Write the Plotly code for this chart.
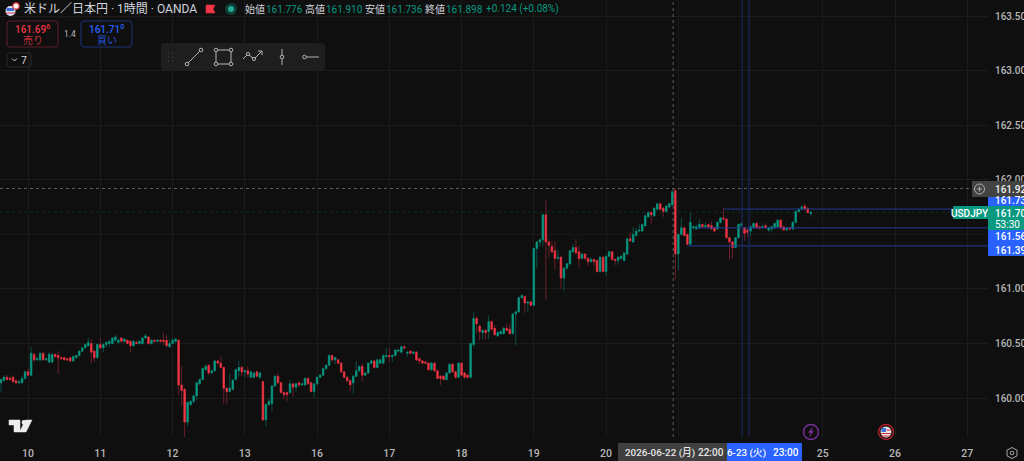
import plotly.graph_objects as go

opens = [160.14,160.16,160.19,160.18,160.19,160.16,160.14,160.14,160.18,160.24,160.21,160.40,160.35,160.35,160.41,160.35,160.33,160.33,160.40,160.39,
160.37,160.37,160.36,160.37,160.34,160.37,160.39,160.43,160.46,160.48,160.50,160.43,160.37,160.49,160.46,160.49,160.50,160.50,160.53,160.51,
160.55,160.52,160.53,160.52,160.48,160.51,160.50,160.50,160.55,160.56,160.50,160.53,160.52,160.53,160.53,160.53,160.47,160.50,160.52,160.53,
160.12,160.08,159.78,159.94,159.97,160.02,160.13,160.17,160.26,160.30,160.23,160.25,160.34,160.32,160.28,160.09,160.06,160.08,160.17,160.25,
160.28,160.24,160.25,160.19,160.19,160.24,160.19,160.15,159.80,159.94,159.95,160.11,160.20,160.14,160.05,160.05,160.05,160.13,160.10,160.14,
160.12,160.12,160.18,160.14,160.06,160.13,160.19,160.21,160.27,160.30,160.39,160.35,160.35,160.32,160.24,160.19,160.16,160.14,160.20,160.25,
160.29,160.21,160.23,160.32,160.34,160.28,160.32,160.32,160.38,160.39,160.38,160.39,160.43,160.42,160.47,160.41,160.43,160.41,160.42,160.36,
160.34,160.33,160.32,160.26,160.32,160.25,160.20,160.20,160.17,160.23,160.31,160.24,160.19,160.32,160.23,160.21,160.19,160.49,160.73,160.66,
160.60,160.62,160.61,160.70,160.64,160.57,160.59,160.59,160.64,160.63,160.59,160.77,160.79,160.92,160.93,160.87,160.88,160.85,161.37,161.43,
161.45,161.68,161.43,161.39,161.35,161.28,161.29,161.10,161.19,161.23,161.34,161.38,161.34,161.28,161.32,161.28,161.25,161.27,161.26,161.16,
161.29,161.16,161.30,161.34,161.27,161.26,161.28,161.26,161.32,161.46,161.43,161.49,161.53,161.53,161.58,161.66,161.70,161.67,161.73,161.78,
161.74,161.71,161.75,161.77,161.90,161.32,161.50,161.56,161.50,161.41,161.56,161.55,161.56,161.59,161.57,161.59,161.58,161.56,161.55,161.61,
161.65,161.64,161.47,161.43,161.38,161.47,161.58,161.56,161.54,161.53,161.56,161.60,161.57,161.56,161.58,161.54,161.55,161.56,161.57,161.63,
161.57,161.54,161.56,161.55,161.61,161.71,161.73,161.76,161.74,161.69]
highs = [160.18,160.21,160.21,160.20,160.21,160.17,160.17,160.20,160.25,160.27,160.47,160.41,160.38,160.42,160.42,160.37,160.42,160.41,160.41,160.43,
160.38,160.38,160.37,160.38,160.39,160.40,160.44,160.47,160.50,160.55,160.54,160.44,160.50,160.55,160.51,160.52,160.53,160.56,160.58,160.55,
160.56,160.55,160.54,160.53,160.53,160.53,160.53,160.56,160.59,160.57,160.54,160.54,160.54,160.54,160.60,160.58,160.54,160.55,160.55,160.54,
160.29,160.09,159.97,159.98,160.03,160.15,160.18,160.28,160.31,160.31,160.26,160.35,160.35,160.38,160.29,160.10,160.22,160.17,160.27,160.34,
160.30,160.26,160.29,160.25,160.24,160.25,160.24,160.16,159.95,160.00,160.12,160.21,160.23,160.15,160.06,160.06,160.17,160.14,160.14,160.15,
160.14,160.19,160.19,160.15,160.14,160.20,160.22,160.28,160.31,160.40,160.40,160.38,160.36,160.33,160.25,160.20,160.17,160.21,160.34,160.30,
160.32,160.24,160.33,160.35,160.35,160.36,160.36,160.40,160.46,160.46,160.40,160.45,160.45,160.48,160.48,160.43,160.44,160.43,160.43,160.37,
160.35,160.34,160.33,160.33,160.33,160.26,160.21,160.21,160.24,160.32,160.32,160.25,160.33,160.33,160.24,160.22,160.51,160.79,160.75,160.67,
160.63,160.63,160.76,160.71,160.67,160.61,160.62,160.65,160.68,160.68,160.78,160.80,160.93,160.95,160.94,160.89,160.89,161.38,161.44,161.46,
161.69,161.81,161.46,161.44,161.44,161.36,161.30,161.20,161.24,161.36,161.41,161.46,161.40,161.33,161.33,161.29,161.29,161.28,161.27,161.30,
161.30,161.31,161.35,161.35,161.28,161.30,161.31,161.34,161.47,161.52,161.57,161.56,161.60,161.60,161.68,161.71,161.71,161.75,161.79,161.79,
161.75,161.77,161.79,161.90,161.92,161.51,161.65,161.57,161.51,161.70,161.58,161.59,161.64,161.60,161.61,161.60,161.62,161.57,161.62,161.66,
161.74,161.65,161.48,161.44,161.48,161.60,161.61,161.57,161.55,161.58,161.61,161.61,161.58,161.60,161.60,161.57,161.58,161.61,161.64,161.64,
161.58,161.57,161.57,161.62,161.72,161.74,161.77,161.78,161.75,161.71]
lows = [160.05,160.15,160.16,160.16,160.14,160.13,160.13,160.13,160.17,160.20,160.20,160.33,160.34,160.33,160.34,160.34,160.32,160.32,160.37,160.22,
160.35,160.35,160.34,160.33,160.33,160.36,160.38,160.42,160.45,160.47,160.32,160.33,160.36,160.44,160.42,160.46,160.47,160.49,160.52,160.50,
160.51,160.51,160.49,160.42,160.47,160.49,160.49,160.49,160.54,160.49,160.49,160.51,160.51,160.51,160.49,160.47,160.46,160.49,160.50,160.03,
159.93,159.59,159.74,159.93,159.95,159.98,160.12,160.16,160.25,160.21,160.22,160.24,160.31,160.27,159.95,159.94,160.05,160.07,160.16,160.20,
160.20,160.19,160.19,160.18,160.18,160.19,160.18,159.79,159.74,159.93,159.88,160.10,160.13,160.04,159.99,159.97,160.04,160.01,160.06,160.10,
160.11,160.11,160.12,160.05,160.00,160.12,160.18,160.20,160.26,160.29,160.33,160.31,160.31,160.23,160.18,160.14,160.06,160.04,160.19,160.24,
160.15,160.20,160.22,160.31,160.27,160.27,160.31,160.31,160.37,160.33,160.33,160.38,160.42,160.41,160.45,160.38,160.40,160.40,160.34,160.31,
160.31,160.31,160.25,160.25,160.24,160.17,160.12,160.16,160.16,160.22,160.23,160.18,160.18,160.20,160.18,160.18,160.18,160.47,160.59,160.53,
160.54,160.53,160.54,160.62,160.57,160.56,160.58,160.58,160.61,160.58,160.58,160.48,160.78,160.91,160.78,160.79,160.84,160.84,161.19,161.39,
161.39,160.90,161.29,161.33,161.17,161.27,161.00,160.98,161.18,161.22,161.33,161.32,161.20,161.27,161.27,161.21,161.24,161.21,161.15,161.15,
161.15,161.12,161.29,161.26,161.22,161.22,161.27,161.25,161.31,161.43,161.42,161.48,161.52,161.52,161.57,161.65,161.60,161.66,161.72,161.72,
161.66,161.70,161.74,161.76,161.08,161.17,161.49,161.48,161.40,161.40,161.54,161.54,161.55,161.56,161.56,161.55,161.54,161.52,161.54,161.60,
161.63,161.46,161.27,161.28,161.37,161.46,161.57,161.44,161.48,161.49,161.55,161.55,161.54,161.55,161.55,161.52,161.52,161.55,161.56,161.55,
161.53,161.53,161.53,161.54,161.60,161.70,161.72,161.72,161.69,161.66]
closes = [160.17,160.19,160.17,160.17,160.15,160.14,160.15,160.18,160.24,160.21,160.41,160.35,160.36,160.41,160.35,160.36,160.40,160.40,160.38,160.37,
160.36,160.35,160.35,160.34,160.38,160.39,160.43,160.46,160.49,160.51,160.42,160.37,160.49,160.46,160.49,160.51,160.52,160.55,160.56,160.53,
160.52,160.54,160.50,160.48,160.52,160.50,160.52,160.55,160.57,160.50,160.53,160.52,160.53,160.52,160.52,160.48,160.50,160.53,160.54,160.12,
160.07,159.78,159.96,159.97,160.02,160.14,160.17,160.27,160.29,160.23,160.25,160.34,160.32,160.28,160.09,160.06,160.09,160.165,160.26,160.28,
160.24,160.25,160.22,160.24,160.23,160.20,160.23,159.80,159.94,159.97,160.11,160.20,160.14,160.05,160.03,160.03,160.13,160.10,160.13,160.12,
160.13,160.18,160.13,160.06,160.13,160.19,160.21,160.27,160.30,160.39,160.35,160.37,160.32,160.24,160.19,160.16,160.12,160.20,160.25,160.29,
160.21,160.23,160.32,160.34,160.28,160.35,160.35,160.39,160.39,160.38,160.39,160.44,160.44,160.47,160.46,160.42,160.41,160.42,160.35,160.34,
160.32,160.32,160.26,160.32,160.25,160.18,160.18,160.17,160.23,160.31,160.24,160.19,160.32,160.21,160.19,160.19,160.50,160.73,160.68,160.61,
160.62,160.60,160.70,160.63,160.58,160.60,160.61,160.64,160.62,160.59,160.77,160.79,160.92,160.94,160.87,160.88,160.85,161.37,161.43,161.45,
161.68,161.43,161.40,161.34,161.28,161.29,161.10,161.19,161.23,161.35,161.38,161.33,161.28,161.32,161.28,161.25,161.27,161.25,161.16,161.29,
161.16,161.30,161.34,161.27,161.26,161.29,161.30,161.33,161.46,161.44,161.50,161.53,161.54,161.59,161.67,161.70,161.68,161.74,161.78,161.73,
161.71,161.76,161.78,161.89,161.32,161.50,161.56,161.49,161.41,161.61,161.57,161.57,161.59,161.57,161.58,161.57,161.55,161.53,161.61,161.65,
161.64,161.47,161.43,161.38,161.47,161.59,161.60,161.51,161.52,161.57,161.60,161.56,161.56,161.57,161.56,161.56,161.57,161.60,161.63,161.56,
161.54,161.56,161.55,161.61,161.71,161.73,161.75,161.73,161.70,161.703]

tick_bars = [9, 33, 57, 81, 105, 129, 153, 177, 201, 273, 297, 321]
tick_days = ["10", "11", "12", "13", "16", "17", "18", "19", "20", "25", "26", "27"]
hidden_day_bars = [225, 249]
price_ticks = [160.0, 160.5, 161.0, 162.0, 162.5, 163.0, 163.5]
price_labels = ["160.000", "160.500", "161.000", "162.000", "162.500", "163.000", "163.500"]
hidden_price_tick = 161.5
hline_prices = [161.732, 161.560, 161.395]
hline_starts = [240, 231, 228]
vline_bars = [246.2, 248.4]
crosshair_bar = 223.3
crosshair_price = 161.920
last_price = 161.703

BG = "#0f0f0f"
GRID = "#1b1b1b"
UP, DOWN = "#089981", "#f23645"
UP_DIM, DOWN_DIM = "#0c4f46", "#6b1f29"
BLUE = "#2962ff"
DIMBLUE = "#1a2b66"
FONT = "Roboto, 'Noto Sans CJK JP', sans-serif"
W, H = 989.0, 437.0
bars = list(range(len(opens)))
body_hi = [max(a, b) for a, b in zip(opens, closes)]
body_lo = [min(a, b) for a, b in zip(opens, closes)]

X = lambda p: p / W
Y = lambda p: 1 - p / H
shapes, notes = [], []


def rect(x0, y0, x1, y1, fill="rgba(0,0,0,0)", line=None, lw=1, radius=0):
    if radius:
        r = radius
        d = (f"M{X(x0+r)},{Y(y0)} L{X(x1-r)},{Y(y0)} Q{X(x1)},{Y(y0)} {X(x1)},{Y(y0+r)} "
             f"L{X(x1)},{Y(y1-r)} Q{X(x1)},{Y(y1)} {X(x1-r)},{Y(y1)} L{X(x0+r)},{Y(y1)} "
             f"Q{X(x0)},{Y(y1)} {X(x0)},{Y(y1-r)} L{X(x0)},{Y(y0+r)} Q{X(x0)},{Y(y0)} {X(x0+r)},{Y(y0)} Z")
        shapes.append(dict(type="path", xref="paper", yref="paper", path=d, fillcolor=fill,
                           line=dict(color=line or "rgba(0,0,0,0)", width=lw if line else 0), layer="above"))
    else:
        shapes.append(dict(type="rect", xref="paper", yref="paper", x0=X(x0), x1=X(x1), y0=Y(y0), y1=Y(y1),
                           fillcolor=fill, line=dict(color=line or "rgba(0,0,0,0)", width=lw if line else 0), layer="above"))


def circle(cx, cy, r, fill="rgba(0,0,0,0)", line=None, lw=1):
    shapes.append(dict(type="circle", xref="paper", yref="paper", x0=X(cx-r), x1=X(cx+r), y0=Y(cy-r), y1=Y(cy+r),
                       fillcolor=fill, line=dict(color=line or "rgba(0,0,0,0)", width=lw if line else 0), layer="above"))


def poly(points, color="#c8c8c8", lw=1, fill=None, close=False):
    d = "M" + " L".join(f"{X(a)},{Y(b)}" for a, b in points) + (" Z" if close else "")
    shapes.append(dict(type="path", xref="paper", yref="paper", path=d, fillcolor=fill or "rgba(0,0,0,0)",
                       line=dict(color=color, width=lw), layer="above"))


def text(x, y, s, color="#d1d4dc", size=11, anchor="left", weight=None):
    notes.append(dict(xref="paper", yref="paper", x=X(x), y=Y(y), text=s, showarrow=False, xanchor=anchor,
                      yanchor="middle", borderpad=0, borderwidth=0,
                      font=dict(color=color, size=size, family=FONT, weight=weight or 400)))


fig = go.Figure()
fig.add_trace(go.Candlestick(x=bars, open=opens, high=highs, low=lows, close=closes, hoverinfo="skip",
                             showlegend=False, whiskerwidth=0,
                             increasing=dict(line=dict(color=UP_DIM, width=1), fillcolor=UP_DIM),
                             decreasing=dict(line=dict(color=DOWN_DIM, width=1), fillcolor=DOWN_DIM)))
fig.add_trace(go.Candlestick(x=bars, open=opens, high=body_hi, low=body_lo, close=closes, hoverinfo="skip",
                             showlegend=False, whiskerwidth=0,
                             increasing=dict(line=dict(color=UP, width=0.5), fillcolor=UP),
                             decreasing=dict(line=dict(color=DOWN, width=0.5), fillcolor=DOWN)))

# grid under the crosshair labels
shapes.append(dict(type="line", xref="paper", yref="y", x0=0, x1=1, y0=hidden_price_tick, y1=hidden_price_tick,
                   line=dict(color=GRID, width=1), layer="below"))
for b in hidden_day_bars:
    shapes.append(dict(type="line", xref="x", yref="paper", x0=b, x1=b, y0=0, y1=1,
                       line=dict(color=GRID, width=1), layer="below"))

# chart-space lines
shapes.append(dict(type="line", xref="paper", yref="y", x0=0, x1=1, y0=last_price, y1=last_price,
                   line=dict(color="#0a2e28", width=1, dash="dot"), layer="below"))
for p, s in zip(hline_prices, hline_starts):
    shapes.append(dict(type="line", xref="x", yref="y", x0=s, x1=329, y0=p, y1=p, line=dict(color="#1f3a94", width=1)))
for b in vline_bars:
    shapes.append(dict(type="line", xref="x", yref="paper", x0=b, x1=b, y0=0, y1=1, line=dict(color=DIMBLUE, width=1)))
shapes.append(dict(type="line", xref="x", yref="paper", x0=crosshair_bar, x1=crosshair_bar, y0=0, y1=1,
                   line=dict(color="#5e5e5e", width=1, dash="dot")))
shapes.append(dict(type="line", xref="paper", yref="y", x0=0, x1=1, y0=crosshair_price, y1=crosshair_price,
                   line=dict(color="#5e5e5e", width=1, dash="dot")))

# right-hand price labels
rect(972, 181, 1024, 197, fill="#434343")
circle(979.5, 189, 5, line="#b0b0b0", lw=1)
poly([(977, 189), (982, 189)], "#b0b0b0")
poly([(979.5, 186.5), (979.5, 191.5)], "#b0b0b0")
text(995, 189, "161.920", "#f0f0f0", 10, weight=500)
rect(988, 197, 1024, 206, fill=BLUE)
text(995, 200.5, "161.732", "#ffffff", 10, weight=500)
rect(953, 206, 988, 219, fill=UP, radius=1)
text(970, 213, "USDJPY", "#ffffff", 10, "center", weight=500)
rect(988, 206, 1024, 230, fill=UP)
text(995, 213, "161.703", "#ffffff", 10, weight=500)
text(995, 224, "53:30", "#ffffff", 10)
rect(988, 230, 1024, 243, fill=BLUE)
text(995, 236.5, "161.560", "#ffffff", 10, weight=500)
rect(988, 243, 1024, 256, fill=BLUE)
text(995, 250, "161.395", "#ffffff", 10, weight=500)

# bottom crosshair labels
rect(618, 443, 727, 461, fill="#3f3f3f")
text(625, 452.5, "2026-06-22 (月)", "#e8e8e8", 9.8, weight=500)
text(698, 452.5, "22:00", "#e8e8e8", 10, weight=500)
rect(727, 443, 802, 461, fill=BLUE)
text(727, 452.5, "6-23 (火)", "#ffffff", 9.8, weight=500)
text(773, 452.5, "23:00", "#ffffff", 10, weight=500)

# header
circle(10.5, 11, 5, fill="#d9e1f2")
rect(6.5, 8, 14, 11, fill="#3b6fd8")
poly([(6, 13), (15.5, 13)], "#e0434e", 1)
circle(16, 6, 3.2, fill="#f4f4f4", line="#e5343f", lw=1.2)
text(24, 9.5, "米ドル／日本円 · 1時間 · OANDA", "#d1d4dc", 12)
poly([(206, 5), (215, 5), (213, 9), (215, 13), (206, 13)], "#f23645", 0.5, fill="#f23645", close=True)
circle(231, 9, 6, fill="#0d3d36")
circle(231, 9, 3, fill="#22ab94")
for x, lab, vx, val in [(245, "始値", 266, "161.776"), (305, "高値", 326, "161.910"),
                        (365, "安値", 386, "161.736"), (425, "終値", 446, "161.898")]:
    text(x, 9.5, lab, "#d1d4dc", 10)
    text(vx, 9.5, val, "#089981", 10)
text(486, 9.5, "+0.124 (+0.08%)", "#089981", 10)

# sell / buy
rect(7, 21, 58, 47, line="#5f1f27", radius=3)
text(32.5, 29, "161.69<sup>6</sup>", "#f23645", 10, "center", weight=500)
text(32.5, 40, "売り", "#c22d3a", 10, "center")
text(70, 34, "1.4", "#b8b8b8", 8.5, "center")
rect(81, 21, 132, 47, line="#1c3278", radius=3)
text(106.5, 29, "161.71<sup>0</sup>", BLUE, 10, "center", weight=500)
text(106.5, 40, "買い", "#2552d8", 10, "center")
rect(7, 53, 31, 67, line="#2a2a2a", radius=2)
poly([(12, 58.5), (14.5, 61), (17, 58.5)], "#c8c8c8", 1)
text(21, 60, "7", "#d1d4dc", 10.5)

# drawing toolbar
rect(161, 43, 325, 71, fill="#1e1e1e", radius=4)
for dx in (168.5, 172.5):
    for dy in (53, 57, 61):
        circle(dx, dy, 0.6, fill="#555555")
ICON = "#b4b4b4"
poly([(188, 63), (200, 51)], ICON)
circle(187, 64, 1.8, fill="#1e1e1e", line=ICON)
circle(201, 50, 1.8, fill="#1e1e1e", line=ICON)
poly([(216, 50), (231, 50), (231, 64), (216, 64)], ICON, close=True)
for c in [(216, 50), (231, 50), (231, 64), (216, 64)]:
    circle(c[0], c[1], 1.8, fill="#1e1e1e", line=ICON)
poly([(243, 59), (248, 54), (254, 59), (262, 51)], ICON)
poly([(258, 51), (262, 51), (262, 55)], ICON)
circle(248, 54, 1.6, fill="#1e1e1e", line=ICON)
circle(254, 59, 1.6, fill="#1e1e1e", line=ICON)
poly([(282, 49), (282, 65)], ICON)
circle(282, 57, 1.8, fill="#1e1e1e", line=ICON)
poly([(306, 57), (319, 57)], ICON)
circle(304.5, 57, 1.8, fill="#1e1e1e", line=ICON)

# TradingView mark
poly([(9, 420), (20, 420), (20, 432), (14, 432), (14, 425), (9, 425)], "#eeeeee", 0.5, fill="#eeeeee", close=True)
circle(24, 422.5, 2.4, fill="#eeeeee")
poly([(32, 420), (26, 432), (19.5, 432), (25.5, 420)], "#eeeeee", 0.5, fill="#eeeeee", close=True)

# event markers
circle(811, 432, 7.5, fill=BG, line="#7b2f9b", lw=1.4)
poly([(812.5, 427.5), (808.5, 432.5), (811, 432.5), (809.5, 436.5), (813.5, 431), (811, 431)], "#7b2f9b", 0.5, fill="#7b2f9b", close=True)
circle(886, 432, 7.5, fill=BG, line="#b2202d", lw=1.4)
circle(886, 432, 5.5, fill="#e6e6e6")
rect(881.5, 428, 886, 432, fill="#3f74d6")
poly([(881, 433.5), (891, 433.5)], "#d8303c", 1)
poly([(882, 436), (890, 436)], "#d8303c", 1)
poly([(886.5, 430), (891, 430)], "#d8303c", 1)

# settings glyph
poly([(1012, 447.5), (1017, 450.2), (1017, 455.8), (1012, 458.5), (1007, 455.8), (1007, 450.2)], "#a8a8a8", 1, close=True)
circle(1012, 453, 1.8, line="#a8a8a8")

fig.update_layout(
    width=1024, height=461, paper_bgcolor=BG, plot_bgcolor=BG,
    margin=dict(l=0, r=35, t=0, b=24, pad=0, autoexpand=False), showlegend=False, hovermode=False,
    shapes=shapes, annotations=notes, font=dict(family=FONT, color="#d1d4dc", size=11),
    xaxis=dict(range=[-0.33, 328.2], type="linear", rangeslider=dict(visible=False), tickmode="array",
               tickvals=tick_bars, ticktext=tick_days, showgrid=True, gridcolor=GRID, gridwidth=1, zeroline=False,
               showline=False, ticks="outside", ticklen=6, tickcolor=BG, automargin=False,
               tickfont=dict(size=10.5, color="#b8b8b8", family=FONT, weight=500), fixedrange=True),
    yaxis=dict(range=[159.643, 163.648], side="right", tickmode="array", tickvals=price_ticks, ticktext=price_labels,
               showgrid=True, gridcolor=GRID, gridwidth=1, zeroline=False, showline=False, ticks="outside", ticklen=3,
               automargin=False, tickcolor=BG, tickfont=dict(size=10, color="#b8b8b8", family=FONT, weight=500), fixedrange=True),
)
fig.write_html("out.html", config=dict(displayModeBar=False),
               post_script="document.body.style.margin='0';document.body.style.background='#0f0f0f';document.body.style.overflow='hidden';")
